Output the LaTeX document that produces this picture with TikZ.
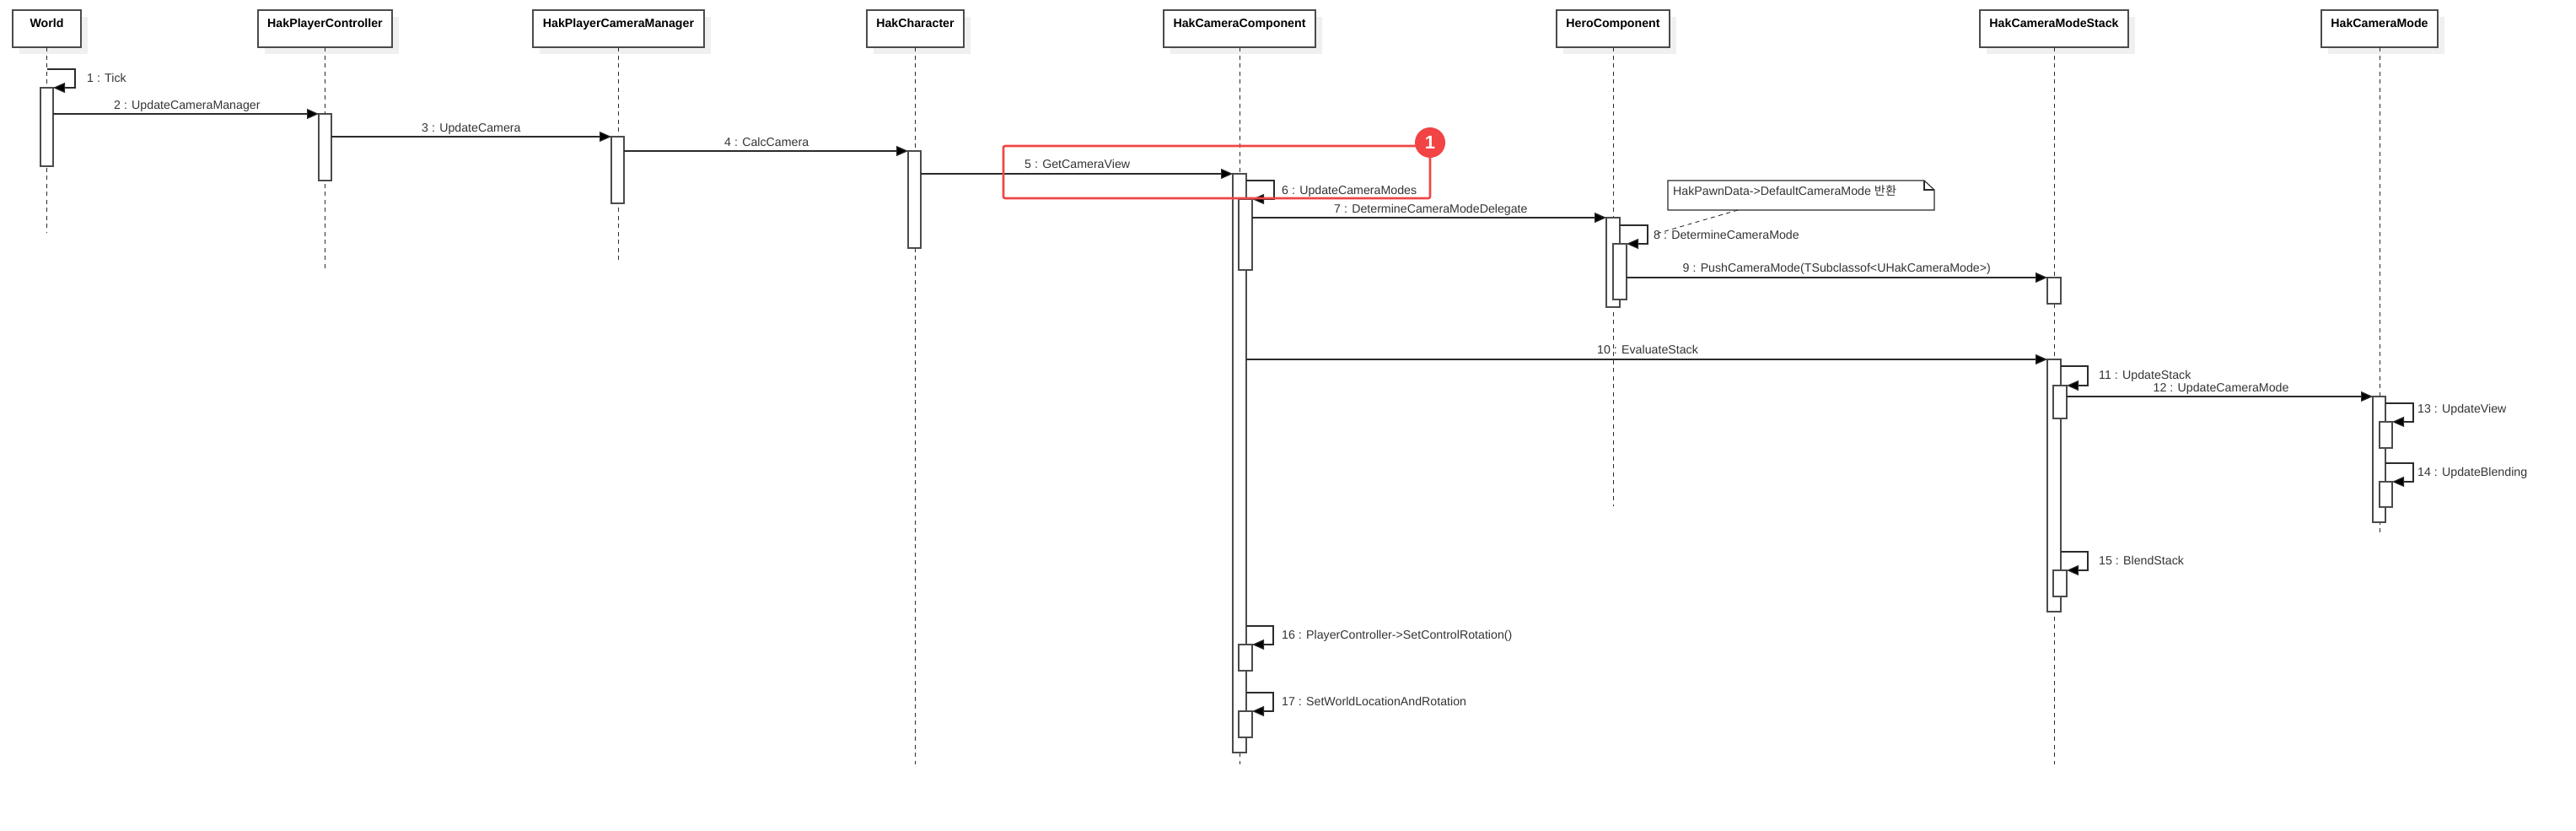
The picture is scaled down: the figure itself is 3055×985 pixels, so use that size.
\documentclass[tikz,border=0pt]{standalone}
\usepackage{fontspec}
\setmainfont{Liberation Sans}
\newfontfamily\krfont{Noto Sans CJK KR}
\usetikzlibrary{arrows.meta,shadows,calc}
\definecolor{ink}{HTML}{2B2B2B}
\definecolor{txt}{HTML}{333333}
\definecolor{redmark}{HTML}{F24444}
\tikzset{
  headbox/.style={draw=ink!85,line width=1.5pt,fill=white,anchor=north west,inner sep=0pt,outer sep=0pt,
    text height=20pt,text depth=24pt,font=\fontsize{14.2}{16}\selectfont\bfseries,text=black,
    general shadow={fill=black!6,shadow xshift=8pt,shadow yshift=-8pt}},
  lifeline/.style={draw=ink,line width=0.9pt,dash pattern=on 5pt off 4.5pt},
  actbar/.style={draw=ink!85,line width=1.2pt,fill=white,anchor=north west,inner sep=0pt,outer sep=0pt},
  msg/.style={draw=ink,line width=1.15pt,-{Triangle[length=14pt,width=12pt,fill=black]}},
  msglabel/.style={anchor=west,inner sep=0pt,text=txt,text height=12pt,text depth=2pt,font=\fontsize{14.2}{16}\selectfont},
  notebox/.style={anchor=north west,inner sep=0pt,outer sep=0pt},
  noteline/.style={draw=ink,line width=1.1pt,line join=miter},
  notelink/.style={draw=ink,line width=0.9pt,dash pattern=on 5pt off 4.5pt,shorten >=5pt},
  redframe/.style={draw=redmark,line width=2.6pt,rounded corners=2pt,anchor=north west,inner sep=0pt,outer sep=0pt},
  redbadge/.style={circle,fill=redmark,text=white,inner sep=0pt,minimum size=36pt,font=\fontsize{22}{24}\selectfont\bfseries},
}
% name, x1, y1, x2, y2, text
\newcommand{\headnode}[6]{\node[headbox,minimum width={(#4-#2)*1pt},minimum height={(#5-#3)*1pt}] (#1) at (#2,#3) {#6};}
\newcommand{\actnode}[5]{\node[actbar,minimum width={(#4-#2)*1pt},minimum height={(#5-#3)*1pt}] (#1) at (#2,#3) {};}
\newcommand{\lifenode}[2]{\coordinate (#1e) at ($(#1.south)+(0,{-(#2-56)*1pt})$);\draw[lifeline] (#1.south) -- (#1e);}
\begin{document}
\begin{tikzpicture}[x=1pt,y=-1pt]
\useasboundingbox (0,0) rectangle (3055,985);
% participants
\headnode{hw}{15}{12}{96}{56}{World}
\headnode{hc}{306}{12}{465}{56}{HakPlayerController}
\headnode{hm}{632}{12}{835}{56}{HakPlayerCameraManager}
\headnode{hr}{1028}{12}{1143}{56}{HakCharacter}
\headnode{hk}{1380}{12}{1560}{56}{HakCameraComponent}
\headnode{ho}{1846}{12}{1980}{56}{HeroComponent}
\headnode{hs}{2348}{12}{2524}{56}{HakCameraModeStack}
\headnode{hd}{2753}{12}{2891}{56}{HakCameraMode}
% lifelines
\lifenode{hw}{276}
\lifenode{hc}{318}
\lifenode{hm}{309}
\lifenode{hr}{906}
\lifenode{hk}{906}
\lifenode{ho}{600}
\lifenode{hs}{906}
\lifenode{hd}{635}
% activations
\actnode{a1}{48}{104}{63}{197}
\actnode{a2}{378}{135}{393}{214}
\actnode{a3}{725}{162}{740}{241}
\actnode{a4}{1077}{179}{1092}{294}
\actnode{a5}{1462}{206}{1478}{892}
\actnode{a6}{1469}{236}{1485}{320}
\actnode{a7}{1905}{258}{1921}{364}
\actnode{a8}{1913}{289}{1929}{355}
\actnode{a9}{2428}{329}{2444}{360}
\actnode{a10}{2428}{426}{2444}{725}
\actnode{a11}{2435}{457}{2451}{496}
\actnode{a12}{2814}{470}{2829}{619}
\actnode{a13}{2822}{500}{2837}{531}
\actnode{a14}{2822}{571}{2837}{601}
\actnode{a15}{2435}{676}{2451}{707}
\actnode{a16}{1469}{764}{1485}{795}
\actnode{a17}{1469}{843}{1485}{874}
% loop corners
\coordinate (c1) at (89,82);
\coordinate (c6) at (1511,214);
\coordinate (c8) at (1954,267);
\coordinate (c11) at (2476,434);
\coordinate (c13) at (2862,478);
\coordinate (c14) at (2862,549);
\coordinate (c15) at (2476,654);
\coordinate (c16) at (1510,742);
\coordinate (c17) at (1510,821);
% messages
\draw[msg] (hw.south |- c1) -- (c1) |- (a1.north east);
\draw[msg] (a1.east |- a2.north) -- (a2.north west);
\draw[msg] (a2.east |- a3.north) -- (a3.north west);
\draw[msg] (a3.east |- a4.north) -- (a4.north west);
\draw[msg] (a4.east |- a5.north) -- (a5.north west);
\draw[msg] (a5.east |- c6) -- (c6) |- (a6.north east);
\draw[msg] (a6.east |- a7.north) -- (a7.north west);
\draw[msg] (a7.east |- c8) -- (c8) |- (a8.north east);
\draw[msg] (a8.east |- a9.north) -- (a9.north west);
\draw[msg] (a5.east |- a10.north) -- (a10.north west);
\draw[msg] (a10.east |- c11) -- (c11) |- (a11.north east);
\draw[msg] (a11.east |- a12.north) -- (a12.north west);
\draw[msg] (a12.east |- c13) -- (c13) |- (a13.north east);
\draw[msg] (a12.east |- c14) -- (c14) |- (a14.north east);
\draw[msg] (a10.east |- c15) -- (c15) |- (a15.north east);
\draw[msg] (a5.east |- c16) -- (c16) |- (a16.north east);
\draw[msg] (a5.east |- c17) -- (c17) |- (a17.north east);
% labels
\node[msglabel] (l1) at (103,92) {1 : Tick};
\node[msglabel] (l2) at (135,124) {2 : UpdateCameraManager};
\node[msglabel] (l3) at (500,151) {3 : UpdateCamera};
\node[msglabel] (l4) at (859,168) {4 : CalcCamera};
\node[msglabel] (l5) at (1215,194) {5 : GetCameraView};
\node[msglabel] (l6) at (1520,225) {6 : UpdateCameraModes};
\node[msglabel] (l7) at (1582,247) {7 : DetermineCameraModeDelegate};
\node[msglabel] (l8) at (1961,278) {8 : DetermineCameraMode};
\node[msglabel] (l9) at (1995.5,317) {9 : PushCameraMode(TSubclassof<UHakCameraMode>)};
\node[msglabel] (l10) at (1894,414) {10 : EvaluateStack};
\node[msglabel] (l11) at (2489,444) {11 : UpdateStack};
\node[msglabel] (l12) at (2553.5,459) {12 : UpdateCameraMode};
\node[msglabel] (l13) at (2867,484) {13 : UpdateView};
\node[msglabel] (l14) at (2867,559) {14 : UpdateBlending};
\node[msglabel] (l15) at (2489,664) {15 : BlendStack};
\node[msglabel] (l16) at (1520,752) {16 : PlayerController->SetControlRotation()};
\node[msglabel] (l17) at (1520,831) {17 : SetWorldLocationAndRotation};
% note
\node[notebox,minimum width=316pt,minimum height=35pt] (note) at (1978,214) {};
\draw[noteline,fill=white] (note.north west) -- ($(note.north east)+(-12pt,0)$) -- ($(note.north east)+(0,-11pt)$) -- (note.south east) -- (note.south west) -- cycle;
\draw[noteline] ($(note.north east)+(-12pt,0)$) -- ($(note.north east)+(-12pt,-11pt)$) -- ($(note.north east)+(0,-11pt)$);
\node[msglabel] (notetext) at (1984,226) {HakPawnData->DefaultCameraMode {\krfont 반환}};
\coordinate (notefoot) at (2061,249);
\draw[notelink] (notefoot) -- (l8.west);
% red highlight
\node[redframe,minimum width=506pt,minimum height=62pt] (redbox) at (1190,173) {};
\node[redbadge] (badge) at (1696,169) {1};
\end{tikzpicture}
\end{document}
